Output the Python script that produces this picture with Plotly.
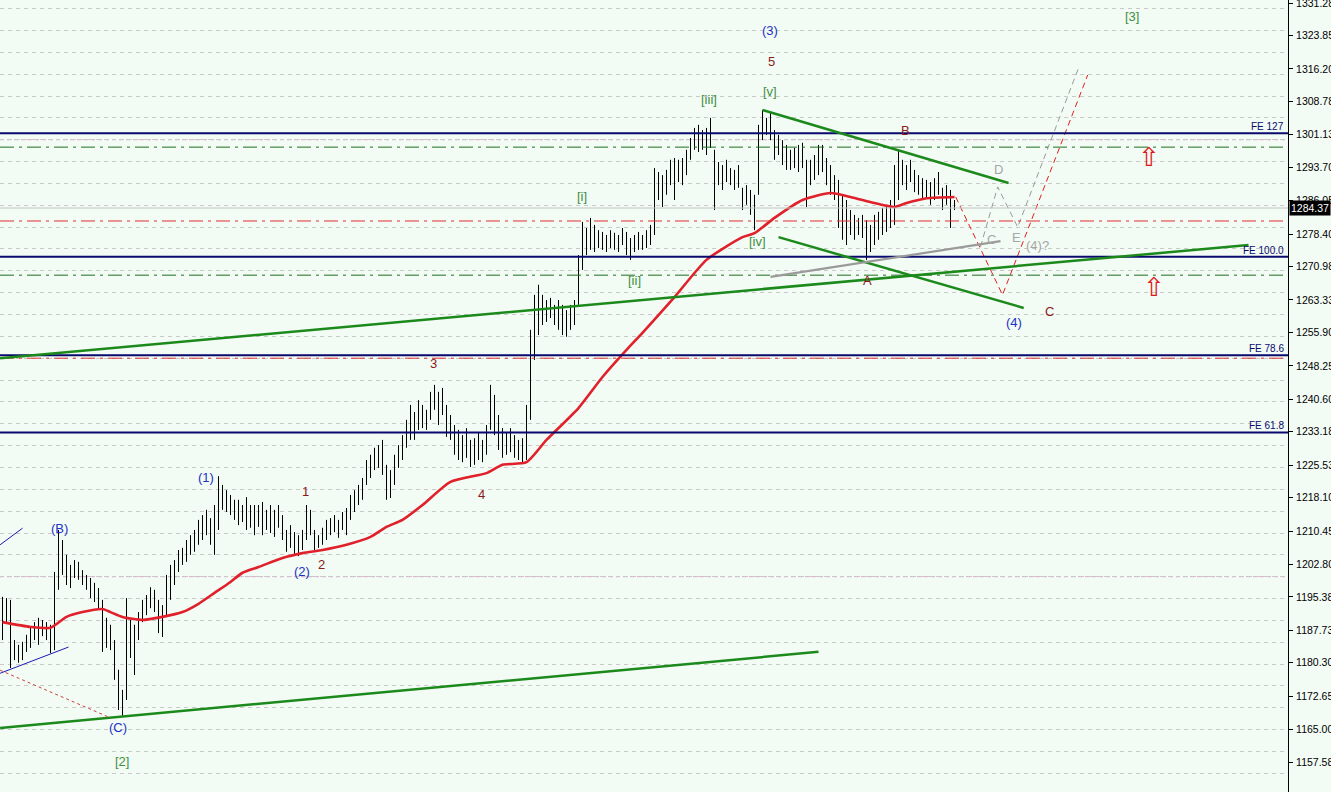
import plotly.graph_objects as go

# ---------------- data ----------------
bar_high = [
    1195.4, 1195.1, 1194.7, 1185.5, 1184.4, 1185.1, 1186.7, 1188.3, 1189.6, 1190.6,
    1190.1, 1189.6, 1189.0, 1201.1, 1210.7, 1208.4, 1205.0, 1202.7, 1203.8, 1203.4,
    1201.5, 1200.4, 1199.7, 1198.6, 1197.4, 1194.7, 1190.6, 1189.0, 1185.5, 1178.7,
    1174.1, 1195.1, 1190.1, 1189.0, 1191.9, 1194.7, 1195.8, 1197.6, 1197.0, 1194.7,
    1193.5, 1200.4, 1202.7, 1203.8, 1206.1, 1206.6, 1208.4, 1209.5, 1210.7, 1213.0,
    1214.1, 1215.3, 1213.4, 1216.4, 1223.0, 1221.0, 1219.8, 1218.7, 1217.6, 1217.6,
    1216.4, 1218.2, 1216.4, 1216.4, 1216.4, 1217.1, 1215.3, 1216.4, 1215.3, 1216.4,
    1214.1, 1210.7, 1211.8, 1210.2, 1209.5, 1210.7, 1216.4, 1215.3, 1210.7, 1209.5,
    1211.2, 1213.0, 1213.4, 1214.1, 1213.0, 1214.8, 1215.7, 1218.7, 1219.8, 1221.0,
    1222.6, 1226.7, 1227.9, 1229.5, 1230.1, 1231.3, 1225.6, 1224.4, 1227.9, 1230.1,
    1232.4, 1235.9, 1239.3, 1237.7, 1240.4, 1239.3, 1238.2, 1242.3, 1243.9, 1242.3,
    1243.2, 1239.3, 1237.0, 1234.7, 1233.6, 1232.4, 1234.0, 1231.3, 1231.7, 1233.1,
    1231.3, 1234.7, 1243.9, 1241.6, 1237.0, 1234.0, 1233.1, 1234.0, 1232.4, 1231.3,
    1231.7, 1239.3, 1256.5, 1264.5, 1266.8, 1264.5, 1263.3, 1263.8, 1262.2, 1263.3,
    1262.2, 1261.0, 1262.2, 1263.3, 1273.6, 1281.2, 1279.8, 1282.1, 1280.5, 1279.3,
    1278.9, 1278.2, 1279.3, 1278.7, 1278.2, 1279.8, 1278.9, 1277.5, 1278.2, 1278.9,
    1278.2, 1279.3, 1280.5, 1293.5, 1292.6, 1291.9, 1293.1, 1295.4, 1295.8, 1295.4,
    1295.8, 1297.7, 1300.4, 1302.7, 1303.4, 1302.2, 1302.7, 1305.0, 1297.7, 1294.9,
    1294.2, 1295.4, 1293.5, 1293.1, 1294.2, 1289.0, 1289.6, 1288.5, 1287.4, 1303.4,
    1306.8, 1305.0, 1306.4, 1302.2, 1301.1, 1299.9, 1298.8, 1297.7, 1298.1, 1298.8,
    1299.3, 1295.4, 1295.4, 1296.5, 1298.8, 1298.8, 1295.8, 1294.2, 1291.9, 1290.8,
    1287.4, 1286.2, 1283.9, 1282.8, 1282.1, 1282.8, 1281.6, 1280.5, 1282.8, 1283.5,
    1284.4, 1285.1, 1286.2, 1294.2, 1297.7, 1295.4, 1294.2, 1295.4, 1293.1, 1291.9,
    1291.2, 1290.8, 1290.3, 1291.2, 1292.6, 1289.0, 1289.6, 1288.5, 1286.2,
]
bar_low = [
    1185.5, 1189.6, 1179.1, 1180.9, 1180.3, 1180.9, 1182.8, 1183.7, 1185.5, 1184.4,
    1186.4, 1185.5, 1182.5, 1183.2, 1197.0, 1200.4, 1198.1, 1197.4, 1199.7, 1199.3,
    1198.1, 1197.0, 1195.1, 1194.2, 1192.4, 1182.8, 1183.7, 1183.2, 1176.4, 1169.5,
    1168.1, 1171.8, 1181.4, 1177.5, 1185.5, 1189.6, 1191.2, 1192.8, 1191.9, 1187.1,
    1186.2, 1191.2, 1194.7, 1198.1, 1201.1, 1202.7, 1203.4, 1205.0, 1205.7, 1207.3,
    1208.4, 1209.5, 1207.3, 1205.0, 1210.7, 1215.3, 1214.8, 1214.1, 1213.0, 1211.8,
    1212.5, 1210.7, 1211.2, 1209.5, 1211.4, 1209.5, 1210.7, 1210.0, 1209.1, 1211.2,
    1208.4, 1205.7, 1206.6, 1205.0, 1204.7, 1206.1, 1208.4, 1209.5, 1206.1, 1206.6,
    1207.3, 1208.4, 1209.5, 1210.2, 1208.9, 1210.7, 1209.5, 1213.0, 1214.8, 1216.4,
    1217.6, 1221.0, 1222.6, 1224.4, 1224.9, 1223.3, 1217.6, 1218.0, 1221.0, 1224.9,
    1226.7, 1229.5, 1231.3, 1231.3, 1233.6, 1234.0, 1233.6, 1235.9, 1238.2, 1234.7,
    1237.0, 1232.0, 1231.3, 1227.9, 1226.7, 1226.2, 1227.2, 1225.1, 1225.6, 1226.7,
    1226.2, 1227.9, 1233.6, 1232.4, 1229.0, 1227.2, 1227.9, 1228.5, 1227.2, 1226.7,
    1226.2, 1226.7, 1235.9, 1249.6, 1255.3, 1257.6, 1258.3, 1259.2, 1257.6, 1256.5,
    1255.3, 1254.9, 1256.5, 1257.6, 1262.2, 1270.2, 1273.6, 1274.8, 1274.3, 1275.2,
    1274.8, 1274.3, 1275.2, 1274.8, 1274.3, 1275.9, 1273.6, 1272.5, 1274.3, 1274.8,
    1274.8, 1275.2, 1275.9, 1278.2, 1286.2, 1284.6, 1287.4, 1289.6, 1286.2, 1290.3,
    1289.6, 1291.9, 1295.4, 1297.7, 1297.2, 1297.7, 1296.5, 1298.1, 1283.9, 1289.6,
    1288.5, 1290.3, 1289.6, 1288.5, 1289.0, 1283.9, 1285.1, 1282.8, 1279.3, 1287.4,
    1299.9, 1301.1, 1299.9, 1295.4, 1296.5, 1294.2, 1293.1, 1293.1, 1293.5, 1292.6,
    1293.5, 1284.6, 1289.6, 1290.8, 1291.9, 1292.6, 1289.6, 1287.4, 1286.2, 1279.8,
    1277.1, 1275.9, 1278.2, 1277.1, 1278.2, 1277.5, 1272.5, 1274.3, 1275.9, 1277.1,
    1278.2, 1278.9, 1279.8, 1280.5, 1286.2, 1289.6, 1288.5, 1290.3, 1288.0, 1287.4,
    1286.2, 1286.7, 1285.1, 1286.2, 1287.4, 1283.9, 1285.1, 1279.8, 1283.9,
]

# moving average (bar index, price)
ma_idx = [0, 7, 12, 16, 20, 25, 27, 30, 35, 40, 45, 49, 53, 57, 60, 64, 70, 75, 80, 86,
          92, 96, 100, 105, 112, 121, 125, 131, 136, 144, 150, 156, 160, 168, 176, 185,
          188, 193, 200, 207, 212, 218, 223, 226, 231, 238]
ma_val = [1189.6, 1188.5, 1188.3, 1190.8, 1191.9, 1192.6, 1191.9, 1190.8, 1190.1, 1190.8,
          1191.9, 1193.8, 1196.3, 1198.8, 1200.9, 1202.2, 1204.3, 1205.4, 1206.1, 1207.3,
          1209.1, 1211.4, 1213.0, 1216.4, 1221.7, 1223.7, 1225.6, 1226.2, 1231.3, 1238.6,
          1245.7, 1251.9, 1255.8, 1264.0, 1272.5, 1277.7, 1278.6, 1282.1, 1286.2, 1287.8,
          1286.9, 1285.5, 1284.6, 1285.5, 1286.6, 1286.9]

# y-axis tick labels
y_ticks = [1157.58, 1165.00, 1172.65, 1180.30, 1187.73, 1195.38, 1202.80, 1210.45,
           1218.10, 1225.53, 1233.18, 1240.60, 1248.25, 1255.90, 1263.33, 1270.98,
           1278.40, 1286.05, 1293.70, 1301.13, 1308.78, 1316.20, 1323.85, 1331.28]
last_price = 1284.37

# Fibonacci extension levels
fe_labels = ["FE 127", "FE 100.0", "FE 78.6", "FE 61.8"]
fe_levels = [1301.5, 1273.2, 1250.7, 1233.0]

# other horizontal levels
green_levels = [1298.3, 1269.0]
red_levels = [1281.4, 1250.0]
pink_levels = [1300.0, 1200.0]

# trend lines: (x0, y0, x1, y1) in (bar index, price)
green_trend = [(-0.6, 1250.0, 311.5, 1275.9),
               (-0.6, 1165.4, 204.0, 1182.8),
               (190.0, 1306.8, 251.5, 1290.1),
               (194.0, 1277.7, 255.3, 1261.5)]
gray_trend = [(192.0, 1268.6, 249.5, 1276.8)]
blue_trend = [(-0.6, 1207.3, 5.0, 1211.1), (-0.6, 1177.9, 16.5, 1183.9)]
red_dotted = [(-0.6, 1178.6, 27.0, 1167.7)]

red_proj_idx = [238.3, 250.0, 271.3]
red_proj_val = [1286.9, 1264.5, 1314.8]
gray_proj_idx = [244.5, 248.8, 253.8, 269.0]
gray_proj_val = [1275.5, 1289.2, 1280.0, 1316.4]

# wave labels: text, bar index, price, colour key
BLUE, GREEN, DRED, GRAY = "#2232c4", "#3f8f3f", "#8b1a1a", "#a6a6a6"
wave_labels = [
    ("(3)", 191.8, 1324.9, BLUE), ("5", 192.3, 1317.8, DRED), ("[v]", 191.8, 1311.1, GREEN),
    ("[iii]", 176.5, 1309.3, GREEN), ("[i]", 144.8, 1287.1, GREEN), ("[ii]", 158.0, 1267.7, GREEN),
    ("[iv]", 188.8, 1276.8, GREEN), ("B", 225.8, 1302.2, DRED), ("A", 216.3, 1267.7, DRED),
    ("D", 249.0, 1293.1, GRAY), ("C", 247.3, 1277.1, GRAY), ("E", 253.5, 1277.7, GRAY),
    ("(4)?", 258.8, 1275.7, GRAY), ("(4)", 252.8, 1258.1, BLUE), ("C", 261.8, 1260.8, DRED),
    ("[3]", 282.3, 1328.3, GREEN), ("3", 107.8, 1248.9, DRED), ("4", 119.8, 1218.9, DRED),
    ("1", 75.8, 1219.6, DRED), ("2", 79.8, 1202.7, DRED), ("(1)", 50.8, 1222.8, BLUE),
    ("(2)", 74.8, 1201.1, BLUE), ("(B)", 14.3, 1211.1, BLUE), ("(C)", 28.8, 1165.6, BLUE),
    ("[2]", 29.8, 1157.6, GREEN),
]
arrow_idx = [286.5, 287.8]
arrow_val = [1296.0, 1266.2]

# ---------------- figure ----------------
Y_MIN, Y_MAX = 1150.73, 1331.97
X_MIN, X_MAX = -0.625, 321.375
BG = "#f3fbf5"
FONT = "Liberation Sans"

fig = go.Figure()

# grid (every 5 points) via an overlaid helper axis
fig.add_trace(go.Scatter(x=[None], y=[None], yaxis="y2", showlegend=False))

# price bars
bx, by = [], []
for i, (h, l) in enumerate(zip(bar_high, bar_low)):
    bx += [i, i, None]
    by += [h, l, None]
fig.add_trace(go.Scatter(x=bx, y=by, mode="lines", line=dict(color="black", width=1),
                         hoverinfo="skip", showlegend=False))

# moving average
fig.add_trace(go.Scatter(x=ma_idx, y=ma_val, mode="lines",
                         line=dict(color="#e0202a", width=2.6, shape="spline", smoothing=0.6),
                         hoverinfo="skip", showlegend=False))

# projections
fig.add_trace(go.Scatter(x=red_proj_idx, y=red_proj_val, mode="lines",
                         line=dict(color="#e02020", width=1, dash="6px,4px"),
                         hoverinfo="skip", showlegend=False))
fig.add_trace(go.Scatter(x=gray_proj_idx, y=gray_proj_val, mode="lines",
                         line=dict(color="#9a9a9a", width=1, dash="6px,4px"),
                         hoverinfo="skip", showlegend=False))

shapes = []
for lv in pink_levels:
    shapes.append(dict(type="line", xref="paper", x0=0, x1=1, yref="y", y0=lv, y1=lv,
                       line=dict(color="#d9a6c8", width=1, dash="4px,3px"), layer="below"))
shapes.append(dict(type="line", xref="paper", x0=0, x1=1, yref="y", y0=last_price, y1=last_price,
                   line=dict(color="#c4c4c4", width=1)))
for lv in green_levels:
    shapes.append(dict(type="line", xref="paper", x0=0, x1=1, yref="y", y0=lv, y1=lv,
                       line=dict(color="#1e6e1e", width=1, dash="14px,5px,3px,5px")))
for lv in red_levels:
    shapes.append(dict(type="line", xref="paper", x0=0, x1=1, yref="y", y0=lv, y1=lv,
                       line=dict(color="#e03030", width=1, dash="14px,5px,3px,5px")))
for lv in fe_levels:
    shapes.append(dict(type="line", xref="paper", x0=0, x1=1, yref="y", y0=lv, y1=lv,
                       line=dict(color="#0a0a6e", width=2)))
for x0, y0, x1, y1 in green_trend:
    shapes.append(dict(type="line", xref="x", yref="y", x0=x0, y0=y0, x1=x1, y1=y1,
                       line=dict(color="#1b8a1b", width=2.5)))
for x0, y0, x1, y1 in gray_trend:
    shapes.append(dict(type="line", xref="x", yref="y", x0=x0, y0=y0, x1=x1, y1=y1,
                       line=dict(color="#9a9a9a", width=2.2)))
for x0, y0, x1, y1 in blue_trend:
    shapes.append(dict(type="line", xref="x", yref="y", x0=x0, y0=y0, x1=x1, y1=y1,
                       line=dict(color="#1a1ab0", width=1)))
for x0, y0, x1, y1 in red_dotted:
    shapes.append(dict(type="line", xref="x", yref="y", x0=x0, y0=y0, x1=x1, y1=y1,
                       line=dict(color="#d04040", width=1, dash="3px,3px")))

annotations = []
for txt, lv in zip(fe_labels, fe_levels):
    annotations.append(dict(xref="paper", x=1, xanchor="right", xshift=-2, yref="y", y=lv,
                            yanchor="bottom", yshift=-1, text=txt, showarrow=False,
                            font=dict(family=FONT, size=10, color="#0a0a6e")))
for txt, xi, yv, col in wave_labels:
    annotations.append(dict(xref="x", x=xi, yref="y", y=yv, text=txt, showarrow=False,
                            font=dict(family=FONT, size=13, color=col)))
for xi, yv in zip(arrow_idx, arrow_val):
    annotations.append(dict(xref="x", x=xi, yref="y", y=yv, text="\u21e7", showarrow=False,
                            font=dict(family="DejaVu Sans", size=26, color="#e01818")))
annotations.append(dict(xref="paper", x=1, xanchor="left", xshift=1, yref="y", y=last_price,
                        text="%.2f" % last_price, showarrow=False, bgcolor="black",
                        borderpad=1, font=dict(family=FONT, size=10.5, color="white")))

fig.update_layout(
    width=1331, height=792,
    margin=dict(l=0, r=43, t=0, b=0, autoexpand=False),
    paper_bgcolor=BG, plot_bgcolor=BG,
    showlegend=False,
    shapes=shapes, annotations=annotations,
    xaxis=dict(range=[X_MIN, X_MAX], visible=False, showgrid=False, zeroline=False),
    yaxis=dict(range=[Y_MIN, Y_MAX], side="right", tickvals=y_ticks, automargin=False,
               ticktext=["%.2f" % v for v in y_ticks], ticks="outside", ticklen=4,
               tickcolor="black", showline=True, linecolor="black", linewidth=1,
               showgrid=False, zeroline=False, ticklabeloverflow="allow", ticklabelstandoff=1,
               tickfont=dict(family=FONT, size=10.5, color="black")),
    yaxis2=dict(range=[Y_MIN, Y_MAX], overlaying="y", side="left", visible=True,
                showticklabels=False, ticks="", showline=False, zeroline=False,
                tick0=0, dtick=5, showgrid=True, gridcolor="#c9c9c9", gridwidth=1,
                griddash="4px,4px", layer="below traces", automargin=False),
)

fig.write_html("out.html", config={"displayModeBar": False},
               post_script="document.body.style.margin='0';document.body.style.overflow='hidden';")
